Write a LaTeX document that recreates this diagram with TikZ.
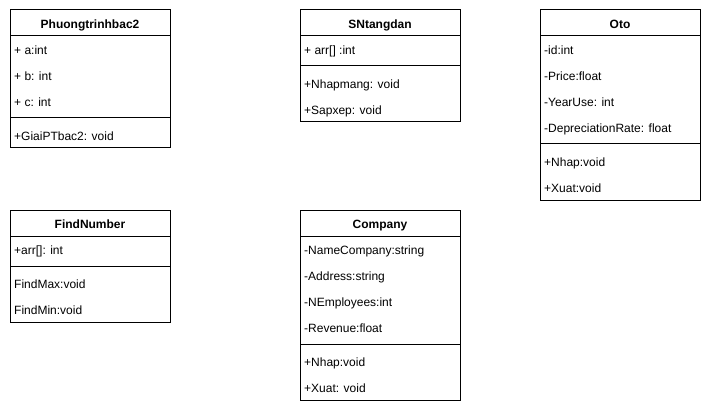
\documentclass[tikz,border=0pt]{standalone}
\usepackage{fontspec}
\setmainfont{Liberation Sans}
\begin{document}
\begin{tikzpicture}[x=1pt,y=-1pt,
  classbox/.style={draw=black,line width=1pt,fill=white,anchor=north west,minimum width=160pt,inner sep=0pt,outer sep=0pt},
  classtitle/.style={anchor=base,inner sep=0pt,font=\fontsize{12}{14}\selectfont\bfseries},
  member/.style={anchor=base west,inner sep=0pt,font=\fontsize{12}{14}\selectfont},
  sepline/.style={draw=black,line width=1pt}]
\useasboundingbox[fill=white] (0,0) rectangle (711,414);

% Phuongtrinhbac2
\node[classbox,minimum height=138pt] (P) at (10,10) {};
\node[classtitle] (Pt) at (90,28.5) {Phuongtrinhbac2};
\draw[sepline] (10,36) -- (170,36);
\node[member] (Pa) at (14,54.5) {+ a:int};
\node[member] (Pb) at (14,80.5) {+ b: int};
\node[member] (Pc) at (14,106.5) {+ c: int};
\draw[sepline] (10,118) -- (170,118);
\node[member] (Pm) at (14,140.5) {+GiaiPTbac2: void};

% SNtangdan
\node[classbox,minimum height=112pt] (S) at (300,10) {};
\node[classtitle] (St) at (380,28.5) {SNtangdan};
\draw[sepline] (300,36) -- (460,36);
\node[member] (Sa) at (304,54.5) {+ arr[] :int};
\draw[sepline] (300,66) -- (460,66);
\node[member] (Sm1) at (304,88.5) {+Nhapmang: void};
\node[member] (Sm2) at (304,114.5) {+Sapxep: void};

% Oto
\node[classbox,minimum height=190pt] (O) at (540,10) {};
\node[classtitle] (Ot) at (620,28.5) {Oto};
\draw[sepline] (540,36) -- (700,36);
\node[member] (Oa1) at (544,54.5) {-id:int};
\node[member] (Oa2) at (544,80.5) {-Price:float};
\node[member] (Oa3) at (544,106.5) {-YearUse: int};
\node[member] (Oa4) at (544,132.5) {-DepreciationRate: float};
\draw[sepline] (540,144) -- (700,144);
\node[member] (Om1) at (544,166.5) {+Nhap:void};
\node[member] (Om2) at (544,192.5) {+Xuat:void};

% FindNumber
\node[classbox,minimum height=112pt] (F) at (10,210) {};
\node[classtitle] (Ft) at (90,228.5) {FindNumber};
\draw[sepline] (10,236) -- (170,236);
\node[member] (Fa) at (14,254.5) {+arr[]: int};
\draw[sepline] (10,266) -- (170,266);
\node[member] (Fm1) at (14,288.5) {FindMax:void};
\node[member] (Fm2) at (14,314.5) {FindMin:void};

% Company
\node[classbox,minimum height=190pt] (C) at (300,210) {};
\node[classtitle] (Ct) at (380,228.5) {Company};
\draw[sepline] (300,236) -- (460,236);
\node[member] (Ca1) at (304,254.5) {-NameCompany:string};
\node[member] (Ca2) at (304,280.5) {-Address:string};
\node[member] (Ca3) at (304,306.5) {-NEmployees:int};
\node[member] (Ca4) at (304,332.5) {-Revenue:float};
\draw[sepline] (300,344) -- (460,344);
\node[member] (Cm1) at (304,366.5) {+Nhap:void};
\node[member] (Cm2) at (304,392.5) {+Xuat: void};
\end{tikzpicture}
\end{document}
